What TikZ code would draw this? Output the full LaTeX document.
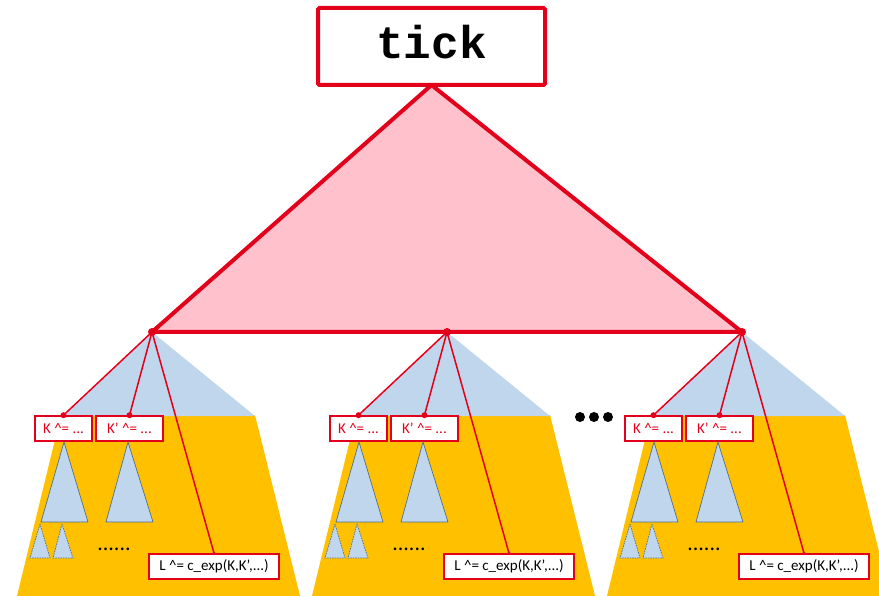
\documentclass[tikz,border=0pt]{standalone}
\usepackage{fontspec}
\setmainfont{Carlito}
\newfontfamily\tickfont{Liberation Mono}
\definecolor{tred}{RGB}{226,0,26}
\definecolor{tpink}{RGB}{255,193,204}
\definecolor{tblue}{RGB}{192,214,236}
\definecolor{torange}{RGB}{255,192,0}
\definecolor{tedge}{RGB}{80,110,140}
\tikzset{
  kbox/.style={draw=tred, line width=1.6pt, fill=white, text=tred, inner sep=0pt,
    minimum height=25pt, font=\fontsize{15}{15}\selectfont},
  lbox/.style={draw=tred, line width=1.6pt, fill=white, text=black, inner sep=0pt,
    minimum height=25pt, minimum width=130pt, font=\fontsize{15}{15}\selectfont},
  subtri/.style={fill=tblue, draw=tedge, line width=0.7pt},
  smalltri/.style={fill=tblue, draw=tedge, line width=0.7pt, dashed, dash pattern=on 1.5pt off 1pt},
  link/.style={draw=tred, line width=1.5pt},
  jdot/.style={circle, fill=tred, inner sep=0pt, minimum size=6pt},
  bigdot/.style={circle, fill=black, inner sep=0pt, minimum size=10pt},
}
\begin{document}
\begin{tikzpicture}[x=1pt,y=-1pt]
\useasboundingbox (0,0) rectangle (879,596);
\clip (0,0) rectangle (879,596);
% subtrees
\foreach \o/\n in {0/a,295/b,590/c}{
  \coordinate (apex\n) at (152+\o,332);
  \fill[torange] (61+\o,415) -- (255+\o,415) -- (301+\o,600) -- (16+\o,600) -- cycle;
  \fill[tblue] (apex\n) -- (64+\o,416) -- (255+\o,416) -- cycle;
  \node[kbox, minimum width=57pt] (k\n) at (63.5+\o,428.5) {K \^{}= ...};
  \node[kbox, minimum width=67pt] (kp\n) at (129.5+\o,428.5) {K’ \^{}= ...};
  \path[subtri] (64+\o,442) -- (41+\o,522) -- (88+\o,522) -- cycle;
  \path[subtri] (128+\o,442) -- (106+\o,522) -- (153+\o,522) -- cycle;
  \path[smalltri] (40+\o,524) -- (30+\o,558) -- (50+\o,558) -- cycle;
  \path[smalltri] (62+\o,524) -- (53+\o,558) -- (73+\o,558) -- cycle;
  \node[anchor=base, inner sep=0pt, font=\fontsize{22}{22}\selectfont] (dots\n) at (114+\o,550.5) {......};
  \node[lbox] (l\n) at (214+\o,566.5) {L \^{}= c\_exp(K,K’,...)};
  \draw[link] (apex\n) -- (k\n.north);
  \draw[link] (apex\n) -- (kp\n.north);
  \draw[link] (apex\n) -- (l\n.north);
  \node[jdot] (dk\n) at (k\n.north) {};
  \node[jdot] (dkp\n) at (kp\n.north) {};
  \node[circle, fill=tred, inner sep=0pt, minimum size=3.5pt] (dl\n) at (l\n.north) {};
}
% top triangle
\coordinate (top) at (431.5,85);
\filldraw[fill=tpink, draw=tred, line width=4pt, line join=round] (top) -- (apexa) -- (apexc) -- cycle;
\node[jdot, minimum size=8pt] at (apexa) {};
\node[jdot, minimum size=8pt] at (apexb) {};
\node[jdot, minimum size=8pt] at (apexc) {};
% tick box
\node[draw=tred, line width=4pt, fill=white, minimum width=227pt, minimum height=77pt, rounded corners=1.5pt] (tick) at (431.5,46.5) {};
\node[anchor=base, inner sep=0pt, font=\tickfont\bfseries\fontsize{46}{46}\selectfont] (ticktext) at (431.5,59) {tick};
% ellipsis between subtrees
\node[bigdot] (e1) at (580,417) {};
\node[bigdot] (e2) at (594,417) {};
\node[bigdot] (e3) at (608,417) {};
\end{tikzpicture}
\end{document}
